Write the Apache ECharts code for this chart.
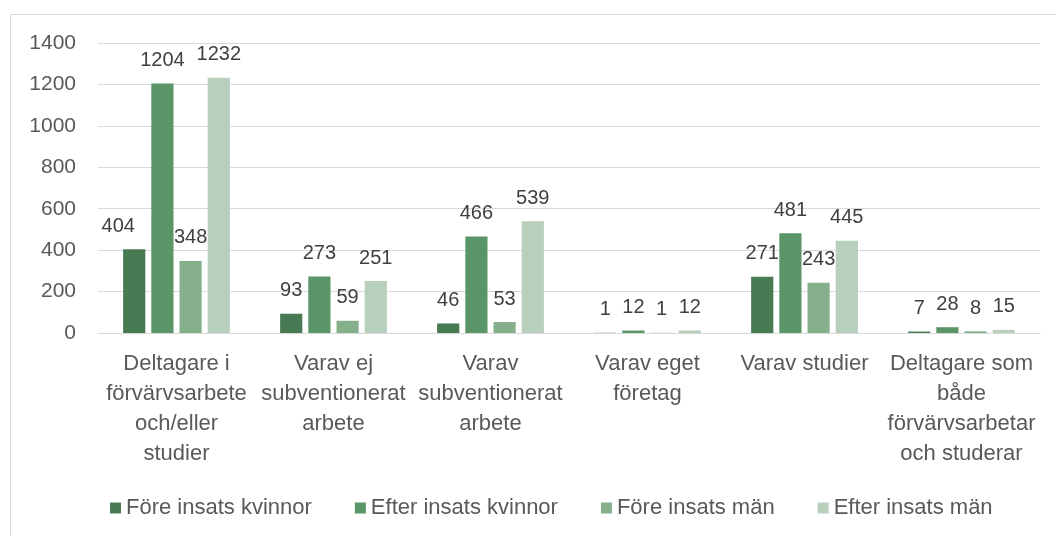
<!DOCTYPE html>
<html><head><meta charset="utf-8">
<script src="https://cdn.jsdelivr.net/npm/echarts@6/dist/echarts.min.js"></script>
<style>html,body{margin:0;padding:0;background:#fff}#c{width:1056px;height:536px}</style>
</head><body><div id="c"></div>
<script>
const categories = [
  "Deltagare i\nförvärvsarbete\noch/eller\nstudier",
  "Varav ej\nsubventionerat\narbete",
  "Varav\nsubventionerat\narbete",
  "Varav eget\nföretag",
  "Varav studier",
  "Deltagare som\nbåde\nförvärvsarbetar\noch studerar"
];
const seriesNames = ["Före insats kvinnor", "Efter insats kvinnor", "Före insats män", "Efter insats män"];
const foreKvinnor = [404, 93, 46, 1, 271, 7];
const efterKvinnor = [1204, 273, 466, 12, 481, 28];
const foreMan = [348, 59, 53, 1, 243, 8];
const efterMan = [1232, 251, 539, 12, 445, 15];
const yTicks = [0, 200, 400, 600, 800, 1000, 1200, 1400];

const colors = ["#487b54", "#5a9567", "#86b08c", "#b8cfbd"];
const allData = [foreKvinnor, efterKvinnor, foreMan, efterMan];
const font = "Liberation Sans";
const chart = echarts.init(document.getElementById('c'), null, {renderer: 'canvas'});
chart.setOption({
  animation: false,
  textStyle: {fontFamily: font},
  graphic: [{type: 'rect', shape: {x: 10.5, y: 14.5, width: 1100, height: 600}, style: {fill: 'none', stroke: '#d9d9d9', lineWidth: 1}}],
  grid: {left: 98, right: 16, top: 43, bottom: 203},
  legend: {
    top: 492, left: 105, itemWidth: 11, itemHeight: 11, itemGap: 43,
    icon: 'rect',
    textStyle: {fontSize: 22, color: '#595959', fontFamily: font},
    data: seriesNames
  },
  xAxis: {
    type: 'category', data: categories,
    axisLine: {lineStyle: {color: '#d9d9d9', width: 1}},
    axisTick: {show: false},
    axisLabel: {interval: 0, fontSize: 22, color: '#595959', lineHeight: 30, margin: 16, fontFamily: font}
  },
  yAxis: {
    type: 'value', min: yTicks[0], max: yTicks[yTicks.length - 1], interval: yTicks[1] - yTicks[0],
    axisLine: {show: false}, axisTick: {show: false},
    splitLine: {lineStyle: {color: '#d9d9d9', width: 1}},
    axisLabel: {fontSize: 21, color: '#595959', margin: 22, fontFamily: font, formatter: v => String(v)}
  },
  series: seriesNames.map((n, i) => ({
    name: n, type: 'bar',
    data: allData[i].map((v, j) => (i === 0 && j === 0) ? {value: v, label: {offset: [-16, 0]}} : v),
    itemStyle: {color: colors[i]},
    barGap: '27%', barCategoryGap: '32%',
    label: {show: true, position: 'top', distance: 13, fontSize: 20, color: '#404040', fontFamily: font}
  }))
});
</script></body></html>
